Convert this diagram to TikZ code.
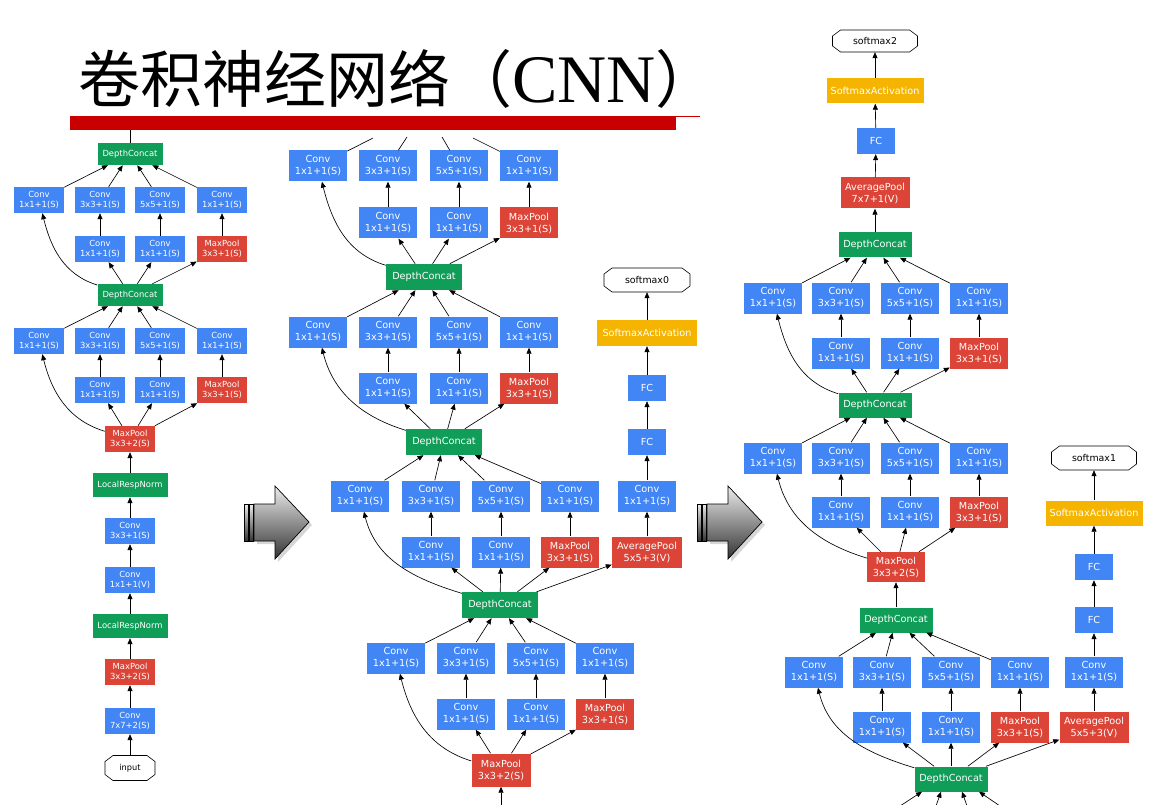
\documentclass[tikz,border=0pt]{standalone}
\usepackage{fontspec}
\setmainfont{Liberation Serif}
\newfontfamily\dv{DejaVu Sans}
\newfontfamily\cjk{Noto Sans CJK SC}
\usetikzlibrary{arrows.meta}
\definecolor{gblue}{RGB}{66,133,244}
\definecolor{gred}{RGB}{219,68,55}
\definecolor{ggreen}{RGB}{15,157,88}
\definecolor{gyellow}{RGB}{244,180,0}
\definecolor{barred}{RGB}{200,0,0}
\tikzset{
  nb/.style={rectangle, inner sep=0pt, align=center, text=white},
  sm/.style={nb, minimum width=50, minimum height=26, font=\dv\fontsize{8.4}{10.5}\selectfont},
  bg/.style={nb, minimum width=58, minimum height=31, font=\dv\fontsize{9.7}{12}\selectfont},
  fblue/.style={fill=gblue},
  fred/.style={fill=gred},
  fgreen/.style={fill=ggreen},
  fyellow/.style={fill=gyellow},
  conn/.style={draw=black, line width=0.65pt, -{Triangle[length=6pt,width=5pt]}},
  plainline/.style={draw=black, line width=0.65pt},
  octline/.style={draw=black, line width=0.6pt, fill=white},
  octtext/.style={inner sep=0pt, text=black},
}
% inception module nodes: prefix, style, x1..x4, yTop, yBottom
\newcommand\incmod[8]{%
  \node[#2,fblue] (#1t1) at (#3,-#7) {Conv\\1x1+1(S)};
  \node[#2,fblue] (#1t2) at (#4,-#7) {Conv\\3x3+1(S)};
  \node[#2,fblue] (#1t3) at (#5,-#7) {Conv\\5x5+1(S)};
  \node[#2,fblue] (#1t4) at (#6,-#7) {Conv\\1x1+1(S)};
  \node[#2,fblue] (#1b2) at (#4,-#8) {Conv\\1x1+1(S)};
  \node[#2,fblue] (#1b3) at (#5,-#8) {Conv\\1x1+1(S)};
  \node[#2,fred]  (#1b4) at (#6,-#8) {MaxPool\\3x3+1(S)};
}
\newcommand\incin[2]{%
  \draw[conn] (#2) to[out=163,in=-76] (#1t1);
  \draw[conn] (#2) -- (#1b2);
  \draw[conn] (#2) -- (#1b3);
  \draw[conn] (#2) -- (#1b4);
  \draw[conn] (#1b2) -- (#1t2);
  \draw[conn] (#1b3) -- (#1t3);
  \draw[conn] (#1b4) -- (#1t4);
}
\newcommand\incout[2]{%
  \draw[conn] (#1t1) -- (#2);
  \draw[conn] (#1t2) -- (#2);
  \draw[conn] (#1t3) -- (#2);
  \draw[conn] (#1t4) -- (#2);
}
% octagon: name, x, y, w, h, text
\newcommand\octo[6]{%
  \draw[octline] ({#2-#4/2+8},{-#3+#5/2}) -- ({#2+#4/2-8},{-#3+#5/2}) -- ({#2+#4/2},{-#3+#5/2-6})
     -- ({#2+#4/2},{-#3-#5/2+6}) -- ({#2+#4/2-8},{-#3-#5/2}) -- ({#2-#4/2+8},{-#3-#5/2})
     -- ({#2-#4/2},{-#3-#5/2+6}) -- ({#2-#4/2},{-#3+#5/2-6}) -- cycle;
  \node[octtext, minimum width=#4, minimum height=#5] (#1) at (#2,-#3) {#6};
}
\newcommand\grayarr[1]{%
  \begin{scope}[shift={(#1,0)}]
    \fill[black!35, opacity=.45] (257,-507) -- (278,-507) -- (278,-489) -- (312,-525) -- (278,-562) -- (278,-544) -- (257,-544) -- cycle;
    \shadedraw[top color=gray!15, bottom color=black!80, draw=black, line width=0.7pt]
      (254,-504) -- (275,-504) -- (275,-486) -- (309,-522) -- (275,-559) -- (275,-541) -- (254,-541) -- cycle;
    \shadedraw[top color=gray!15, bottom color=black!80, draw=black, line width=0.7pt] (244,-504) rectangle (248,-541);
    \shadedraw[top color=gray!15, bottom color=black!80, draw=black, line width=0.7pt] (249,-504) rectangle (253,-541);
  \end{scope}
}
\begin{document}
\begin{tikzpicture}[x=1pt,y=1pt]
\fill[white] (0,0) rectangle (1157,-805);
\useasboundingbox (0,0) rectangle (1157,-805);

% ---------- title ----------
\node[anchor=base west, inner sep=0pt] (title) at (78,-103)
  {\cjk\fontsize{62}{62}\selectfont 卷积神经网络（\rmfamily\fontsize{68}{68}\selectfont CNN\cjk\fontsize{62}{62}\selectfont ）};
\fill[barred] (70,-116) rectangle (676,-130);
\draw[barred, line width=0.6pt] (676,-116.3) -- (700,-116.3);

% ---------- left column ----------
\node[sm,fgreen,minimum width=65,minimum height=22] (ldc1) at (130,-154) {DepthConcat};
\incmod{la}{sm}{39}{100}{160}{222}{200}{249}
\node[sm,fgreen,minimum width=65,minimum height=22] (ldc2) at (130,-295) {DepthConcat};
\incmod{lb}{sm}{39}{100}{160}{222}{341}{390}
\node[sm,fred] (lmp1) at (130,-439) {MaxPool\\3x3+2(S)};
\node[sm,fgreen,minimum width=75,minimum height=24] (llrn1) at (130,-485) {LocalRespNorm};
\node[sm,fblue] (lc1) at (130,-531) {Conv\\3x3+1(S)};
\node[sm,fblue] (lc2) at (130,-580) {Conv\\1x1+1(V)};
\node[sm,fgreen,minimum width=75,minimum height=24] (llrn2) at (130,-626) {LocalRespNorm};
\node[sm,fred] (lmp2) at (130,-672) {MaxPool\\3x3+2(S)};
\node[sm,fblue] (lc3) at (130,-721) {Conv\\7x7+2(S)};
\octo{lin}{130}{768}{50}{25}{\dv\fontsize{8.2}{10}\selectfont input}

\coordinate (ltop) at (130,-130);
\draw[plainline] (ldc1) -- (ltop);
\incin{la}{ldc2}
\incout{la}{ldc1}
\incin{lb}{lmp1}
\incout{lb}{ldc2}
\draw[conn] (llrn1) -- (lmp1);
\draw[conn] (lc1) -- (llrn1);
\draw[conn] (lc2) -- (lc1);
\draw[conn] (llrn2) -- (lc2);
\draw[conn] (lmp2) -- (llrn2);
\draw[conn] (lc3) -- (lmp2);
\draw[conn] (lin) -- (lc3);

% ---------- middle column ----------
\incmod{ma}{bg}{318}{388}{459}{529}{166}{223}
\node[bg,fgreen,minimum width=76,minimum height=26] (mdc1) at (424,-277) {DepthConcat};
\incmod{mb}{bg}{318}{388}{459}{529}{332}{388}
\node[bg,fgreen,minimum width=76,minimum height=26] (mdc2) at (444,-442) {DepthConcat};
\incmod{mc}{bg}{360}{431}{501}{570}{496}{552}
\node[bg,fgreen,minimum width=76,minimum height=26] (mdc3) at (500,-605) {DepthConcat};
\incmod{md}{bg}{396}{466}{536}{605}{658}{714}
\node[bg,fred,minimum width=59,minimum height=33] (mmp) at (501,-770) {MaxPool\\3x3+2(S)};

\node[bg,fred,minimum width=70] (mavg) at (647,-552) {AveragePool\\5x5+3(V)};
\node[bg,fblue] (mcv) at (647,-496) {Conv\\1x1+1(S)};
\node[bg,fblue,minimum width=38,minimum height=26] (mfc1) at (647,-442) {FC};
\node[bg,fblue,minimum width=38,minimum height=26] (mfc2) at (647,-388) {FC};
\node[bg,fyellow,minimum width=100,minimum height=26] (msa) at (647,-333) {SoftmaxActivation};
\octo{msm}{647}{280}{86}{24}{\dv\fontsize{9.4}{11}\selectfont softmax0}

\coordinate (cma1) at (373,-138);
\coordinate (cma2) at (407,-137);
\coordinate (cma3) at (442,-137);
\coordinate (cma4) at (473,-138);
\draw[plainline] (mat1) -- (cma1);
\draw[plainline] (mat2) -- (cma2);
\draw[plainline] (mat3) -- (cma3);
\draw[plainline] (mat4) -- (cma4);
\incin{ma}{mdc1}
\incin{mb}{mdc2}
\incout{mb}{mdc1}
\incin{mc}{mdc3}
\incout{mc}{mdc2}
\incin{md}{mmp}
\incout{md}{mdc3}
\coordinate (cmbot) at (501,-805);
\draw[conn] (cmbot) -- (mmp);
\draw[conn] (mdc3) -- (mavg);
\draw[conn] (mavg) -- (mcv);
\draw[conn] (mcv) -- (mfc1);
\draw[conn] (mfc1) -- (mfc2);
\draw[conn] (mfc2) -- (msa);
\draw[conn] (msa) -- (msm);

% ---------- right column ----------
\octo{rsm2}{875}{41}{85}{22}{\dv\fontsize{9.4}{11}\selectfont softmax2}
\node[bg,fyellow,minimum width=97,minimum height=25] (rsa) at (875,-91) {SoftmaxActivation};
\node[bg,fblue,minimum width=38,minimum height=26] (rfc) at (876,-141) {FC};
\node[bg,fred,minimum width=69] (ravg) at (875,-193) {AveragePool\\7x7+1(V)};
\node[bg,fgreen,minimum width=73,minimum height=25] (rdc1) at (875,-245) {DepthConcat};
\incmod{ra}{bg}{773}{841}{910}{979}{298}{353}
\node[bg,fgreen,minimum width=73,minimum height=25] (rdc2) at (875,-405) {DepthConcat};
\incmod{rb}{bg}{773}{841}{910}{979}{458}{512}
\node[bg,fred,minimum width=58,minimum height=30] (rmp) at (896,-567) {MaxPool\\3x3+2(S)};
\node[bg,fgreen,minimum width=73,minimum height=25] (rdc3) at (896,-620) {DepthConcat};
\incmod{rc}{bg}{814}{882}{951}{1020}{672}{727}
\node[bg,fgreen,minimum width=73,minimum height=25] (rdc4) at (951,-779) {DepthConcat};

\node[bg,fred,minimum width=69] (ravg2) at (1094,-727) {AveragePool\\5x5+3(V)};
\node[bg,fblue] (rcv) at (1094,-672) {Conv\\1x1+1(S)};
\node[bg,fblue,minimum width=38,minimum height=26] (rfc1) at (1094,-620) {FC};
\node[bg,fblue,minimum width=38,minimum height=26] (rfc2) at (1094,-567) {FC};
\node[bg,fyellow,minimum width=97,minimum height=25] (rsa2) at (1094,-513) {SoftmaxActivation};
\octo{rsm1}{1094}{458}{85}{24}{\dv\fontsize{9.4}{11}\selectfont softmax1}

\draw[conn] (rdc1) -- (ravg);
\draw[conn] (ravg) -- (rfc);
\draw[conn] (rfc) -- (rsa);
\draw[conn] (rsa) -- (rsm2);
\incin{ra}{rdc2}
\incout{ra}{rdc1}
\incin{rb}{rmp}
\incout{rb}{rdc2}
\draw[conn] (rdc3) -- (rmp);
\incin{rc}{rdc4}
\incout{rc}{rdc3}
\draw[conn] (rdc4) -- (ravg2);
\draw[conn] (ravg2) -- (rcv);
\draw[conn] (rcv) -- (rfc1);
\draw[conn] (rfc1) -- (rfc2);
\draw[conn] (rfc2) -- (rsa2);
\draw[conn] (rsa2) -- (rsm1);
\coordinate (rbot1) at (900,-806);
\coordinate (rbot2) at (936,-806);
\coordinate (rbot3) at (967,-806);
\coordinate (rbot4) at (1000,-806);
\draw[conn] (rbot1) -- ([xshift=-29pt]rdc4.south);
\draw[conn] (rbot2) -- ([xshift=-10pt]rdc4.south);
\draw[conn] (rbot3) -- ([xshift=11pt]rdc4.south);
\draw[conn] (rbot4) -- ([xshift=28pt]rdc4.south);

% ---------- gray arrows ----------
\grayarr{0}
\grayarr{453}
\end{tikzpicture}
\end{document}
